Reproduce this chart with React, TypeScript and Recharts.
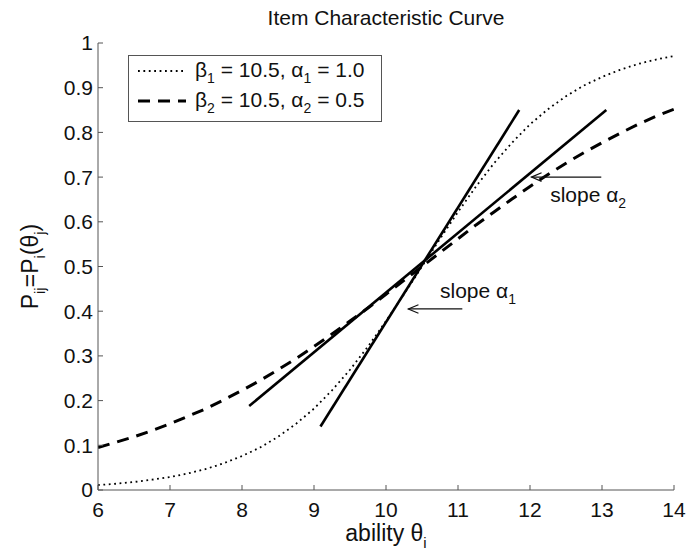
import { LineChart, Line, XAxis, YAxis, ReferenceLine, ReferenceDot, Legend } from "recharts";

const FONT = '"Liberation Sans", Arial, Helvetica, sans-serif';
const INK = "#111";
const AXIS = "#555";

const TITLE = "Item Characteristic Curve";

// ability grid and the two item curves
const THETA = [
  6, 6.25, 6.5, 6.75, 7, 7.25, 7.5, 7.75, 8, 8.25, 8.5, 8.75, 9, 9.25, 9.5, 9.75, 10,
  10.25, 10.5, 10.75, 11, 11.25, 11.5, 11.75, 12, 12.25, 12.5, 12.75, 13, 13.25, 13.5, 13.75, 14,
];
const P_ITEM1 = [
  0.011, 0.014, 0.018, 0.023, 0.029, 0.037, 0.047, 0.06, 0.076, 0.095, 0.119, 0.148, 0.182, 0.223, 0.269, 0.321, 0.378,
  0.438, 0.5, 0.562, 0.622, 0.679, 0.731, 0.777, 0.818, 0.852, 0.881, 0.905, 0.924, 0.94, 0.953, 0.963, 0.971,
];
const P_ITEM2 = [
  0.095, 0.107, 0.119, 0.133, 0.148, 0.165, 0.182, 0.202, 0.223, 0.245, 0.269, 0.294, 0.321, 0.349, 0.378, 0.407, 0.438,
  0.469, 0.5, 0.531, 0.562, 0.593, 0.622, 0.651, 0.679, 0.706, 0.731, 0.755, 0.777, 0.798, 0.818, 0.836, 0.852,
];
const BETAS = [10.5, 10.5];
const ALPHAS = [1.0, 0.5];

// tangent segments [theta, p]
const TANGENT1 = [[9.09, 0.142], [11.85, 0.85]];
const TANGENT2 = [[8.1, 0.188], [13.06, 0.85]];

// annotation arrows (tail -> tip) and their labels
const ARROW_TAILS = [[12.99, 0.7], [11.06, 0.405]];
const ARROW_TIPS = [[12.02, 0.7], [10.31, 0.405]];
const NOTE_POS = [[12.28, 0.645], [10.75, 0.429]];
const NOTE_SUBS = ["2", "1"];

const X_TICKS = [6, 7, 8, 9, 10, 11, 12, 13, 14];
const Y_TICKS = [0, 0.1, 0.2, 0.3, 0.4, 0.5, 0.6, 0.7, 0.8, 0.9, 1];

const curve1 = THETA.map((t, i) => ({ theta: t, p: P_ITEM1[i] }));
const curve2 = THETA.map((t, i) => ({ theta: t, p: P_ITEM2[i] }));
const tan1 = TANGENT1.map(([t, p]) => ({ theta: t, p }));
const tan2 = TANGENT2.map(([t, p]) => ({ theta: t, p }));

const DOTTED = "1.8 3.6";
const DASHED = "12 8";

function Sub({ children }: { children: any }) {
  return <span style={{ fontSize: 14, position: "relative", top: 6 }}>{children}</span>;
}

function LegendBox() {
  const styles = [
    { dash: DOTTED, w: 1.8 },
    { dash: DASHED, w: 3 },
  ];
  return (
    <div style={{ boxSizing: "border-box", width: 254, height: 67, border: `1px solid ${AXIS}`, background: "#fff", padding: "0 0 0 9px", fontFamily: FONT, fontSize: 21, color: INK }}>
      {BETAS.map((b, i) => (
        <div key={i} style={{ display: "flex", alignItems: "center", height: 30 }}>
          <svg width={48} height={10} style={{ display: "block" }}>
            <line x1={0} x2={48} y1={5} y2={5} stroke="#000" strokeWidth={styles[i].w} strokeDasharray={styles[i].dash} />
          </svg>
          <span style={{ marginLeft: 9, whiteSpace: "nowrap", lineHeight: "30px" }}>
            β<Sub>{i + 1}</Sub> = {b.toFixed(1)}, α<Sub>{i + 1}</Sub> = {ALPHAS[i].toFixed(1)}
          </span>
        </div>
      ))}
    </div>
  );
}

function Arrow(props: any) {
  const { x1, y1, x2, y2 } = props;
  const ang = Math.atan2(y2 - y1, x2 - x1);
  const L = 11;
  const W = 0.4;
  const ax = x2 - L * Math.cos(ang - W);
  const ay = y2 - L * Math.sin(ang - W);
  const bx = x2 - L * Math.cos(ang + W);
  const by = y2 - L * Math.sin(ang + W);
  return (
    <g>
      <line x1={x1} y1={y1} x2={x2} y2={y2} stroke={INK} strokeWidth={1.2} />
      <polyline points={`${ax},${ay} ${x2},${y2} ${bx},${by}`} fill="none" stroke={INK} strokeWidth={1.2} />
    </g>
  );
}

function note(sub: string) {
  return (props: any) => (
    <text x={props.cx} y={props.cy} fontSize={21} fontFamily={FONT} fill={INK}>
      slope α<tspan fontSize={14} dy={6}>{sub}</tspan>
    </text>
  );
}

function XTitle(props: any) {
  const vb = props.viewBox || { x: 98, y: 490, width: 576, height: 40 };
  return (
    <text x={vb.x + vb.width / 2} y={vb.y + 51} textAnchor="middle" fontSize={23} fontFamily={FONT} fill={INK}>
      ability θ<tspan fontSize={15} dy={7}>i</tspan>
    </text>
  );
}

function YTitle(props: any) {
  const vb = props.viewBox || { x: 38, y: 43, width: 60, height: 447 };
  const cx = 38;
  const cy = vb.y + vb.height / 2;
  return (
    <text x={cx} y={cy} transform={`rotate(-90 ${cx} ${cy})`} textAnchor="middle" fontSize={23} fontFamily={FONT} fill={INK}>
      P<tspan fontSize={15} dy={7}>ij</tspan>
      <tspan dy={-7}>=P</tspan>
      <tspan fontSize={15} dy={7}>i</tspan>
      <tspan dy={-7}>(θ</tspan>
      <tspan fontSize={15} dy={7}>j</tspan>
      <tspan dy={-7}>)</tspan>
    </text>
  );
}

const tickStyle = { fontSize: 21, fill: INK, fontFamily: FONT };

export default function App() {
  return (
    <div style={{ position: "absolute", left: 0, top: 0, width: 690, height: 554, background: "#fff" }}>
      <div style={{ position: "absolute", left: 98, top: 6, width: 576, textAlign: "center", fontFamily: FONT, fontSize: 21, lineHeight: "24px", color: INK, zIndex: 1 }}>
        {TITLE}
      </div>
      <LineChart width={690} height={554} margin={{ top: 43, right: 16, left: 38, bottom: 24 }}>
        <XAxis
          dataKey="theta" type="number" domain={[6, 14]} ticks={X_TICKS} interval={0} allowDataOverflow
          height={40} tick={tickStyle} tickSize={-5} tickMargin={17}
          stroke={AXIS} label={{ content: XTitle }}
        />
        <XAxis xAxisId="top" orientation="top" type="number" domain={[6, 14]} ticks={X_TICKS} interval={0} height={0} tick={false} tickSize={-5} stroke={AXIS} />
        <YAxis
          type="number" domain={[0, 1]} ticks={Y_TICKS} interval={0} allowDataOverflow
          width={60} tick={tickStyle} tickSize={-5} tickMargin={10}
          stroke={AXIS} label={{ content: YTitle }}
        />
        <YAxis yAxisId="right" orientation="right" type="number" domain={[0, 1]} ticks={Y_TICKS} interval={0} width={0} tick={false} tickSize={-5} stroke={AXIS} />

        <Line data={curve1} dataKey="p" stroke="#000" strokeWidth={1.8} strokeDasharray={DOTTED} dot={false} activeDot={false} isAnimationActive={false} type="linear" />
        <Line data={curve2} dataKey="p" stroke="#000" strokeWidth={3} strokeDasharray={DASHED} dot={false} activeDot={false} isAnimationActive={false} type="linear" />
        <Line data={tan1} dataKey="p" stroke="#000" strokeWidth={2.6} dot={false} activeDot={false} isAnimationActive={false} type="linear" />
        <Line data={tan2} dataKey="p" stroke="#000" strokeWidth={2.6} dot={false} activeDot={false} isAnimationActive={false} type="linear" />

        {ARROW_TAILS.map(([x, y], i) => (
          <ReferenceLine key={`a${i}`} segment={[{ x, y }, { x: ARROW_TIPS[i][0], y: ARROW_TIPS[i][1] }]} shape={Arrow} ifOverflow="visible" />
        ))}
        {NOTE_POS.map(([x, y], i) => (
          <ReferenceDot key={`n${i}`} x={x} y={y} r={0} shape={note(NOTE_SUBS[i])} ifOverflow="visible" />
        ))}

        <Legend layout="horizontal" verticalAlign="middle" align="center" wrapperStyle={{ left: 128, top: 55, width: 254, height: 67 }} content={() => <LegendBox />} />
      </LineChart>
    </div>
  );
}
